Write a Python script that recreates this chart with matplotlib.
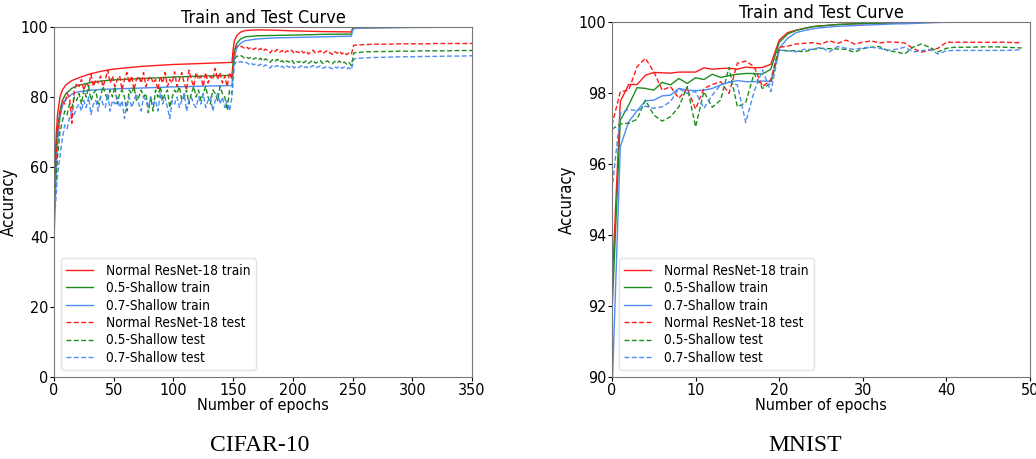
import numpy as np
import matplotlib.pyplot as plt

plt.rcParams['font.family'] = ['DejaVu Sans']
plt.rcParams['font.stretch'] = 'condensed'

RED = '#ff1a1a'
GREEN = '#1f8c1f'
BLUE = '#4d8cf5'

# ---------------- CIFAR-10 ----------------
cifar_train_ep = [0, 1, 2, 3, 5, 7, 10, 15, 20, 30, 40, 50, 75, 100, 125, 149,
                  150, 151, 153, 156, 160, 170, 185, 200, 225, 249,
                  250, 251, 255, 275, 300, 350]
cifar_red_train = [45, 62, 70, 75, 80, 82, 83.5, 84.7, 85.4, 86.6, 87.4, 88.0, 88.8, 89.3, 89.6, 89.9,
                   93.5, 96.0, 97.5, 98.5, 99.0, 99.2, 99.1, 98.9, 98.7, 98.6,
                   99.5, 99.8, 99.85, 99.9, 99.95, 99.97]
cifar_green_train = [40, 55, 65, 71, 76, 79, 81, 82.5, 83.3, 84.1, 84.6, 84.9, 85.3, 85.7, 86.0, 86.2,
                     90.0, 93.0, 95.3, 96.5, 97.2, 97.5, 97.6, 97.7, 97.9, 98.0,
                     99.3, 99.6, 99.75, 99.85, 99.9, 99.95]
cifar_blue_train = [38, 50, 60, 67, 74, 77.5, 79.5, 80.8, 81.5, 81.9, 82.2, 82.3, 82.6, 82.9, 83.1, 83.3,
                    87.5, 91.0, 94.0, 95.3, 96.1, 96.6, 96.9, 97.0, 97.2, 97.4,
                    99.0, 99.5, 99.7, 99.8, 99.9, 99.95]

cifar_test_ep = list(range(1, 250, 2)) + [251, 260, 270, 280, 290, 300, 310, 320, 330, 340, 350]

cifar_red_test = [
    58, 70, 75, 79, 78, 81, 80, 72.5, 82, 84,
    83, 85, 82, 84, 83, 86.5, 83, 85, 84, 86,
    83, 85, 87.7, 84, 86, 83, 85, 86, 82, 85,
    87, 84, 86, 82, 85, 86, 84, 87, 83, 85,
    86, 84, 85, 82, 86, 84, 87, 83, 85, 84,
    87.2, 83, 85, 87, 84, 82, 87.7, 85, 83, 87,
    85, 86, 83, 87, 84, 86, 85, 88.2, 85, 87,
    84, 86, 83, 87, 85,
    93.5, 94.6, 94.3, 94.5, 94.0, 94.4, 93.8, 94.2, 93.6, 94.0,
    93.4, 93.9, 93.1, 93.7, 93.3, 92.6, 93.5, 93.0, 93.6, 92.8,
    93.3, 92.5, 93.2, 92.9, 93.4, 92.4, 93.0, 92.7, 93.3, 92.6,
    93.1, 92.3, 92.9, 93.4, 92.5, 92.8, 93.2, 92.4, 92.9, 93.3,
    92.6, 92.2, 93.0, 92.5, 93.1, 92.3, 92.8, 92.1, 92.6, 92.3,
    94.8, 95.0, 95.1, 95.1, 95.2, 95.2, 95.2, 95.3, 95.3, 95.3, 95.3]
cifar_green_test = [
    52, 63, 70, 73, 76, 75, 78, 77, 80, 79,
    81, 78, 82, 80, 83, 79, 81, 82, 78, 80,
    83, 81, 79, 82, 80, 83, 78, 81, 82, 80,
    76, 82, 81, 83, 79, 80, 82, 80, 81, 75.5,
    80, 76, 82, 80, 83, 79, 81, 82, 77, 80,
    82, 81, 83, 79, 80, 82, 78, 81, 83, 80,
    82, 79, 81, 83, 80, 78, 82, 81, 79, 83,
    81, 80, 76.3, 82, 81,
    90.8, 91.7, 91.5, 91.8, 91.2, 91.5, 91.0, 91.4, 90.8, 91.2,
    90.6, 91.1, 90.3, 90.9, 90.5, 89.9, 90.7, 90.2, 90.8, 90.0,
    90.4, 89.7, 90.3, 90.0, 90.6, 89.6, 90.2, 89.9, 90.4, 89.8,
    90.3, 89.6, 90.1, 90.5, 89.7, 90.0, 90.4, 89.6, 90.1, 90.3,
    89.8, 89.5, 90.2, 89.7, 90.3, 89.6, 90.0, 89.4, 89.9, 89.0,
    92.6, 92.9, 93.0, 93.0, 93.1, 93.1, 93.2, 93.2, 93.2, 93.3, 93.3]
cifar_blue_test = [
    48, 58, 63, 68, 72, 71, 74, 76, 75, 77,
    78, 76, 79, 77, 80, 75, 78, 79, 76, 80,
    78, 77, 81, 76, 79, 78, 80, 77, 79, 73.9,
    78, 80, 77, 79, 81, 78, 76, 80, 79, 77,
    80, 78, 79, 76, 81, 78, 80, 77, 73.9, 79,
    78, 80, 77, 79, 81, 76, 79, 80, 78, 77,
    80, 78, 81, 77, 79, 80, 76, 79, 81, 78,
    80, 77, 79, 76, 80,
    89.3, 90.2, 90.0, 90.1, 89.7, 89.9, 89.4, 89.8, 89.2, 89.5,
    89.0, 89.4, 88.6, 89.2, 88.9, 88.3, 89.1, 88.7, 89.0, 88.4,
    88.8, 88.2, 88.9, 88.5, 89.0, 88.3, 88.7, 88.4, 88.9, 88.3,
    88.7, 88.2, 88.6, 89.0, 88.3, 88.6, 88.9, 88.2, 88.5, 88.8,
    88.4, 88.1, 88.7, 88.3, 88.8, 88.2, 88.6, 88.0, 88.4, 87.8,
    90.9, 91.2, 91.3, 91.4, 91.5, 91.5, 91.6, 91.6, 91.7, 91.7, 91.8]

# ---------------- MNIST ----------------
mnist_ep = list(range(50))
mnist_red_train = [92.5, 97.76, 98.24, 98.24, 98.5, 98.58, 98.57, 98.56, 98.59, 98.59,
                   98.59, 98.71, 98.67, 98.69, 98.7, 98.67, 98.73, 98.71, 98.72, 98.81,
                   99.49, 99.7, 99.77, 99.82, 99.87, 99.89, 99.91, 99.93, 99.94, 99.95,
                   99.95, 99.96, 99.96, 99.97, 99.97, 99.98, 99.98, 99.99, 99.99, 99.99,
                   100, 100, 100, 100, 100, 100, 100, 100, 100, 100]
mnist_green_train = [91.8, 97.24, 97.66, 98.15, 98.13, 98.08, 98.3, 98.23, 98.41, 98.27,
                     98.43, 98.38, 98.53, 98.44, 98.49, 98.53, 98.55, 98.55, 98.53, 98.67,
                     99.42, 99.66, 99.76, 99.82, 99.87, 99.89, 99.91, 99.93, 99.94, 99.95,
                     99.96, 99.96, 99.97, 99.97, 99.98, 99.98, 99.99, 99.99, 99.99, 100,
                     100, 100, 100, 100, 100, 100, 100, 100, 100, 100]
mnist_blue_train = [89.5, 96.49, 97.19, 97.5, 97.78, 97.8, 97.92, 97.94, 98.13, 98.08,
                    98.07, 98.08, 98.13, 98.23, 98.3, 98.35, 98.32, 98.32, 98.34, 98.32,
                    99.26, 99.54, 99.7, 99.76, 99.81, 99.84, 99.86, 99.88, 99.89, 99.9,
                    99.91, 99.92, 99.93, 99.94, 99.95, 99.95, 99.96, 99.97, 99.98, 99.99,
                    99.99, 100, 100, 100, 100, 100, 100, 100, 100, 100]
mnist_red_test = [97.1, 98.04, 98.08, 98.74, 98.98, 98.6, 98.08, 98.18, 97.85, 98.13,
                  97.55, 98.13, 98.24, 98.32, 97.99, 98.84, 98.9, 98.74, 98.18, 98.37,
                  99.29, 99.32, 99.38, 99.4, 99.42, 99.38, 99.47, 99.4, 99.49, 99.38,
                  99.43, 99.47, 99.41, 99.44, 99.43, 99.41, 99.26, 99.15, 99.21, 99.26,
                  99.43, 99.43, 99.43, 99.43, 99.43, 99.43, 99.43, 99.43, 99.42, 99.42]
mnist_green_test = [96.98, 97.13, 97.15, 97.26, 97.8, 97.38, 97.21, 97.33, 97.61, 98.18,
                    97.05, 98.04, 97.6, 97.8, 98.72, 97.61, 97.73, 98.55, 98.13, 98.27,
                    99.21, 99.19, 99.19, 99.16, 99.23, 99.26, 99.25, 99.24, 99.23, 99.15,
                    99.25, 99.29, 99.31, 99.19, 99.16, 99.1, 99.29, 99.38, 99.29, 99.16,
                    99.26, 99.29, 99.29, 99.29, 99.3, 99.3, 99.3, 99.29, 99.28, 99.27]
mnist_blue_test = [95.27, 97.43, 97.54, 97.5, 97.63, 97.57, 97.61, 97.76, 98.13, 97.99,
                   98.04, 97.57, 97.94, 98.23, 98.32, 98.23, 97.17, 98.04, 98.65, 98.04,
                   99.21, 99.19, 99.16, 99.23, 99.23, 99.29, 99.16, 99.31, 99.26, 99.23,
                   99.27, 99.29, 99.26, 99.21, 99.23, 99.29, 99.16, 99.19, 99.23, 99.1,
                   99.19, 99.2, 99.2, 99.2, 99.2, 99.2, 99.2, 99.2, 99.21, 99.22]

labels = ['Normal ResNet-18 train', '0.5-Shallow train', '0.7-Shallow train',
          'Normal ResNet-18 test', '0.5-Shallow test', '0.7-Shallow test']


def draw(ax, tr_x, trains, te_x, tests):
    colors = [RED, GREEN, BLUE]
    for y, c, lab in zip(trains, colors, labels[:3]):
        ax.plot(tr_x, y, color=c, lw=1.0, label=lab)
    for y, c, lab in zip(tests, colors, labels[3:]):
        ax.plot(te_x, y, color=c, lw=1.0, ls='--', dashes=(3.5, 1.8), label=lab)
    ax.set_title('Train and Test Curve', fontsize=13, pad=3)
    ax.set_xlabel('Number of epochs', fontsize=11.5, labelpad=0)
    ax.set_ylabel('Accuracy', fontsize=12, labelpad=2)
    ax.tick_params(labelsize=11.5, length=3, pad=1)
    for s in ax.spines.values():
        s.set_color('#777777')
    ax.legend(loc='lower left', fontsize=9.8, handlelength=2.0, handletextpad=0.9,
              labelspacing=0.25, borderaxespad=0.5, framealpha=0.8, edgecolor='#dddddd')


fig = plt.figure(figsize=(10.36, 4.59), dpi=100)
ax1 = fig.add_axes([0.0521, 0.1786, 0.4035, 0.7625])
ax2 = fig.add_axes([0.5907, 0.1786, 0.4035, 0.7734])

draw(ax1, cifar_train_ep, [cifar_red_train, cifar_green_train, cifar_blue_train],
     cifar_test_ep, [cifar_red_test, cifar_green_test, cifar_blue_test])
ax1.set_xlim(0, 350)
ax1.set_ylim(0, 100)
ax1.set_xticks(range(0, 351, 50))
ax1.set_yticks(range(0, 101, 20))

draw(ax2, mnist_ep, [mnist_red_train, mnist_green_train, mnist_blue_train],
     mnist_ep, [mnist_red_test, mnist_green_test, mnist_blue_test])
ax2.set_xlim(0, 50)
ax2.set_ylim(90, 100)
ax2.set_xticks(range(0, 51, 10))
ax2.set_yticks(range(90, 101, 2))

fig.text(0.251, 0.018, 'CIFAR-10', fontsize=17, family='Liberation Serif', ha='center')
fig.text(0.777, 0.018, 'MNIST', fontsize=17, family='Liberation Serif', ha='center')

fig.savefig('out.png', dpi=100)
